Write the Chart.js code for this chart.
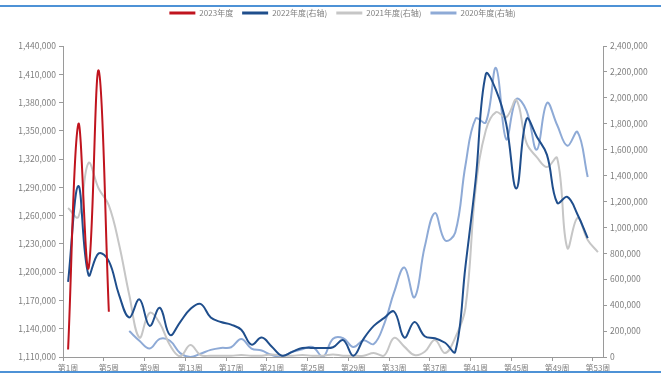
<!DOCTYPE html>
<html><head><meta charset="utf-8">
<script src="https://cdn.jsdelivr.net/npm/chart.js@4"></script>
<style>
html,body{margin:0;padding:0;background:#fff;}
#wrap{position:relative;width:661px;height:374px;}
.bar{position:absolute;left:0;width:661px;height:2px;background:#4e92d6;}
</style></head><body>
<div id="wrap"><canvas id="c"></canvas><div class="bar" style="top:5px"></div><div class="bar" style="top:371px"></div></div>
<script>
const weeks = ['第1周','第2周','第3周','第4周','第5周','第6周','第7周','第8周','第9周','第10周',
 '第11周','第12周','第13周','第14周','第15周','第16周','第17周','第18周','第19周','第20周',
 '第21周','第22周','第23周','第24周','第25周','第26周','第27周','第28周','第29周','第30周',
 '第31周','第32周','第33周','第34周','第35周','第36周','第37周','第38周','第39周','第40周',
 '第41周','第42周','第43周','第44周','第45周','第46周','第47周','第48周','第49周','第50周',
 '第51周','第52周','第53周'];

const seriesNames = ['2023年度','2022年度(右轴)','2021年度(右轴)','2020年度(右轴)'];

const d2023 = [1118000, 1357000, 1204000, 1414000, 1158000];

const d2022 = [579000, 1320000, 633000, 800000, 740000, 480000, 305000, 445000, 240000, 380000,
 170000, 270000, 370000, 410000, 305000, 270000, 250000, 210000, 95000, 150000,
 80000, 10000, 40000, 70000, 70000, 70000, 75000, 130000, 10000, 140000,
 240000, 300000, 350000, 150000, 270000, 160000, 145000, 110000, 40000, 700000,
 1366000, 2184000, 2060000, 1800000, 1300000, 1837000, 1700000, 1560000, 1190000, 1235000,
 1100000, 918000, null];

const d2021 = [1150000, 1080000, 1497000, 1300000, 1170000, 870000, 480000, 150000, 340000, 260000,
 90000, 5000, 93000, 15000, 10000, 10000, 10000, 15000, 10000, 10000,
 20000, 10000, 10000, 15000, 10000, 10000, 20000, 10000, 10000, 10000,
 30000, 10000, 147000, 80000, 15000, 40000, 131000, 30000, 150000, 380000,
 1300000, 1750000, 1890000, 1850000, 1983000, 1650000, 1543000, 1466000, 1535000, 841000,
 1073000, 903000, 810000];

const d2020 = [null, null, null, null, null, null, 200000, 125000, 65000, 140000,
 125000, 30000, 0, 25000, 55000, 70000, 75000, 139000, 65000, 50000,
 15000, 5000, 40000, 60000, 77000, 0, 140000, 145000, 77000, 130000,
 100000, 250000, 500000, 690000, 460000, 850000, 1110000, 900000, 960000, 1480000,
 1840000, 1810000, 2230000, 1680000, 1990000, 1900000, 1600000, 1960000, 1790000, 1630000,
 1736000, 1389000, null];

const leftTicks = {min: 1110000, max: 1440000, step: 30000};
const rightTicks = {min: 0, max: 2400000, step: 200000};

const colors = ['#c0141e', '#1f4e8c', '#c6c6c6', '#8eaad6'];
const FONT = "'Noto Sans CJK SC', 'Noto Sans', sans-serif";
const TXT = '#7f7f7f';
const AX = '#9a9a9a';

const legendSpace = {
  id: 'legendSpace',
  beforeInit(chart) {
    const orig = chart.legend.fit;
    chart.legend.fit = function () { orig.bind(chart.legend)(); this.height = 46; };
  },
  afterLayout(chart) {
    chart.legend.left += 12;
    chart.legend.right += 12;
  }
};

function ds(i, data, axis) {
  return {label: seriesNames[i], data: data, yAxisID: axis, borderColor: colors[i], backgroundColor: colors[i],
    borderWidth: 2, pointRadius: 0, tension: 0.4, spanGaps: false};
}

new Chart(document.getElementById('c'), {
  type: 'line',
  data: {labels: weeks, datasets: [
    ds(0, d2023, 'yL'), ds(1, d2022, 'yR'), ds(2, d2021, 'yR'), ds(3, d2020, 'yR')
  ]},
  plugins: [legendSpace],
  options: {
    responsive: true, maintainAspectRatio: false, animation: false,
    layout: {padding: {top: 0, bottom: 0, left: 0, right: 0}},
    plugins: {
      legend: {display: true, position: 'top',
        labels: {boxWidth: 26, boxHeight: 3, padding: 9, color: TXT, font: {size: 8, family: FONT},
          generateLabels: chart => Chart.defaults.plugins.legend.labels.generateLabels(chart)
            .map(l => Object.assign(l, {lineWidth: 0}))}},
      tooltip: {enabled: false}
    },
    scales: {
      x: {type: 'category', offset: true,
        grid: {display: true, drawOnChartArea: false, offset: true, tickLength: 4,
          color: c => (c.index % 4 === 0 ? AX : 'rgba(0,0,0,0)')},
        border: {color: AX},
        ticks: {autoSkip: false, maxRotation: 0, padding: 2, color: TXT, font: {size: 8, family: FONT},
          callback: (v, i) => (i % 4 === 0 ? weeks[i] : '')},
        afterFit: s => { s.height = 17; }
      },
      yL: {position: 'left', min: leftTicks.min, max: leftTicks.max,
        grid: {display: true, drawOnChartArea: false, tickLength: 4, color: AX},
        border: {color: AX},
        ticks: {stepSize: leftTicks.step, padding: 3, color: TXT, font: {size: 8.5, family: FONT},
          callback: v => v.toLocaleString('en-US')},
        afterFit: s => { s.width = 63; }
      },
      yR: {position: 'right', min: rightTicks.min, max: rightTicks.max,
        grid: {display: true, drawOnChartArea: false, tickLength: 4, color: AX},
        border: {color: AX},
        ticks: {stepSize: rightTicks.step, padding: 3, color: TXT, font: {size: 8.5, family: FONT},
          callback: v => v.toLocaleString('en-US')},
        afterFit: s => { s.width = 58; }
      }
    }
  }
});
</script>
</body></html>
